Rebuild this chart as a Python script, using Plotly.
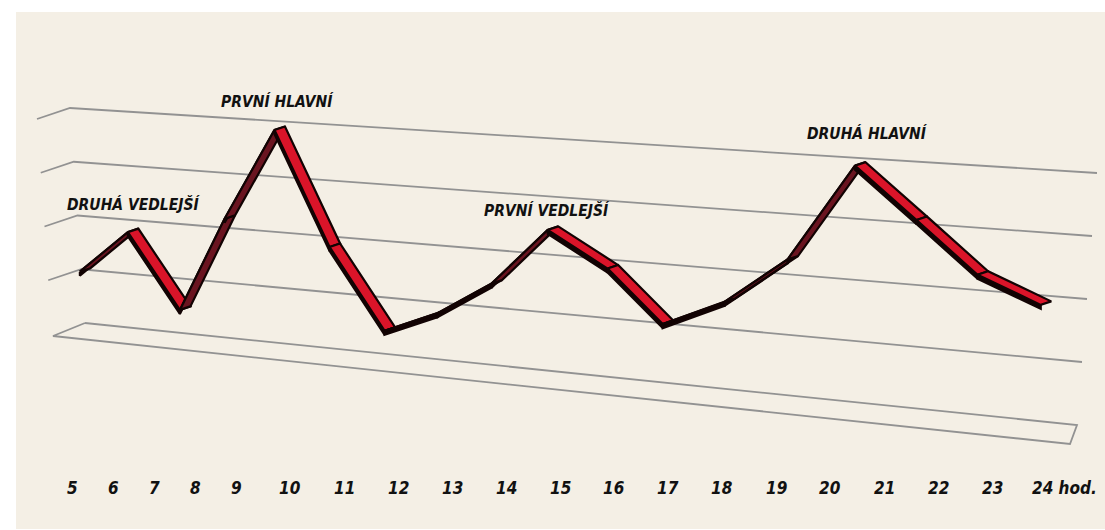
import plotly.graph_objects as go

# ---------------- data ----------------
hour_labels = ["5", "6", "7", "8", "9", "10", "11", "12", "13", "14", "15",
               "16", "17", "18", "19", "20", "21", "22", "23", "24 hod."]
label_hours = [5, 6, 7, 8, 9, 10, 11, 12, 13, 14, 15, 16, 17, 18, 19, 20, 21, 22, 23, 24]

point_hours = [5.32, 6.49, 7.76, 8.85, 9.81, 10.83, 11.85, 12.83, 13.83, 14.87,
               15.98, 17.0, 18.15, 19.31, 20.56, 21.7, 22.83, 24.0]
traffic = [1.0, 1.81, 0.47, 2.2, 3.87, 1.85, 0.45, 0.85, 1.45, 2.46,
           1.88, 1.02, 1.49, 2.28, 3.91, 3.09, 2.28, 1.88]

peak_names = ["DRUHÁ VEDLEJŠÍ", "PRVNÍ HLAVNÍ", "PRVNÍ VEDLEJŠÍ", "DRUHÁ HLAVNÍ"]
peak_points = [1, 4, 9, 14]

grid_levels = [1, 2, 3, 4]

# ---------------- style / projection ----------------
W, H = 1105, 530
BG_PAGE = "#FFFFFF"
BG = "#F4EFE5"
GRID = "#929292"
RED = "#DA1429"
DARK = "#6A1420"
EDGE = "#120303"
FONT = "DejaVu Sans Condensed, Liberation Sans Narrow, sans-serif"

LEVEL_MAX = 4.0
# back wall corners (bottom-left, bottom-right, top-left, top-right)
BL, BR, TL, TR = (85, 323), (1077, 425), (70, 108), (1097, 173)
F_LEFT, F_RIGHT = (-32, 13), (-7, 19)      # floor depth (back -> front)
SIDE = (-33, 11)                            # left side-wall depth
# hour scale (piecewise linear, as drawn in the original graphic)
HOUR_KNOTS = [5.0, 9.0, 24.0]
HOUR_PX = [72.0, 236.0, 1046.0]
RIB_D = (10.5, -3.5)                         # ribbon depth vector
RIB_T = 4.0                                  # ribbon thickness


def wall(u, v):
    a = v / LEVEL_MAX
    x = (1-u)*(1-a)*BL[0] + u*(1-a)*BR[0] + (1-u)*a*TL[0] + u*a*TR[0]
    y = (1-u)*(1-a)*BL[1] + u*(1-a)*BR[1] + (1-u)*a*TL[1] + u*a*TR[1]
    return x, y


def floor_depth(u):
    return ((1-u)*F_LEFT[0] + u*F_RIGHT[0], (1-u)*F_LEFT[1] + u*F_RIGHT[1])


def hour_x(h):
    for k in range(len(HOUR_KNOTS) - 1):
        h0, h1 = HOUR_KNOTS[k], HOUR_KNOTS[k + 1]
        if h <= h1 or k == len(HOUR_KNOTS) - 2:
            p0, p1 = HOUR_PX[k], HOUR_PX[k + 1]
            return p0 + (p1 - p0) * (h - h0) / (h1 - h0)


def point_xy(h, v):
    x = hour_x(h)
    mid_left = (BL[0] + TL[0]) / 2
    mid_right = (BR[0] + TR[0]) / 2
    u = (x - mid_left) / (mid_right - mid_left)
    return x, wall(u, v)[1]


fig = go.Figure()


def poly(xs, ys, fill=None, color=GRID, width=1.8, close=False):
    if close:
        xs = xs + [xs[0]]
        ys = ys + [ys[0]]
    fig.add_trace(go.Scatter(
        x=xs, y=ys, mode="lines",
        line=dict(color=color, width=width),
        fill="toself" if fill else "none",
        fillcolor=fill if fill else None,
        hoverinfo="skip", showlegend=False))


# floor slab
p_bl = wall(0, 0)
p_br = wall(1, 0)
fl, fr = floor_depth(0), floor_depth(1)
poly([p_bl[0], p_br[0], p_br[0] + fr[0], p_bl[0] + fl[0]],
     [p_bl[1], p_br[1], p_br[1] + fr[1], p_bl[1] + fl[1]], close=True)

# gridlines on back wall + left side wall
for lv in grid_levels:
    a = wall(0, lv)
    b = wall(1, lv)
    poly([a[0] + SIDE[0], a[0], b[0]], [a[1] + SIDE[1], a[1], b[1]])

# 3D ribbon line
pts = [point_xy(h, v) for h, v in zip(point_hours, traffic)]
dx, dy = RIB_D
for i in range(len(pts) - 1):
    (xa, ya), (xb, yb) = pts[i], pts[i + 1]
    fa = (xa - dx / 2, ya - dy / 2)
    fb = (xb - dx / 2, yb - dy / 2)
    # front thickness face
    poly([fa[0], fb[0], fb[0], fa[0]],
         [fa[1], fb[1], fb[1] + RIB_T, fa[1] + RIB_T],
         fill=EDGE, color=EDGE, width=2.2, close=True)
    # top / under face
    falling = yb > ya
    poly([fa[0], fb[0], fb[0] + dx, fa[0] + dx],
         [fa[1], fb[1], fb[1] + dy, fa[1] + dy],
         fill=RED if falling else DARK, color=EDGE, width=2.2, close=True)

annotations = []
# peak labels
peak_dx = [0, -2, -6, 7]
peak_dy = [-26, -27, -18, -30]
for name, idx, ox, oy in zip(peak_names, peak_points, peak_dx, peak_dy):
    px, py = pts[idx]
    annotations.append(dict(
        x=px + ox, y=py + oy, xref="x", yref="y", text=name, showarrow=False,
        xanchor="center", yanchor="middle",
        font=dict(family=FONT, size=15.5, color="#111111", weight="bold", style="italic")))

# hour labels
LABEL_Y = 488
for lab, h in zip(hour_labels, label_hours):
    x = hour_x(h)
    if " " in lab:
        annotations.append(dict(
            x=x - 16, y=LABEL_Y, xref="x", yref="y", text=lab, showarrow=False,
            xanchor="left", yanchor="middle",
            font=dict(family=FONT, size=17, color="#111111", weight="bold", style="italic")))
    else:
        annotations.append(dict(
            x=x, y=LABEL_Y, xref="x", yref="y", text=lab, showarrow=False,
            xanchor="center", yanchor="middle",
            font=dict(family=FONT, size=17, color="#111111", weight="bold", style="italic")))

fig.update_layout(
    width=W, height=H,
    margin=dict(l=0, r=0, t=0, b=0),
    paper_bgcolor=BG_PAGE, plot_bgcolor=BG_PAGE,
    xaxis=dict(range=[0, W], visible=False, fixedrange=True),
    yaxis=dict(range=[H, 0], visible=False, fixedrange=True),
    shapes=[dict(type="rect", xref="x", yref="y", x0=16, x1=W, y0=12, y1=529,
                 fillcolor=BG, line=dict(width=0), layer="below")],
    annotations=annotations,
    showlegend=False,
)

fig.write_html(
    "out.html",
    config={"displayModeBar": False},
    post_script="document.body.style.margin='0';document.body.style.overflow='hidden';",
)
